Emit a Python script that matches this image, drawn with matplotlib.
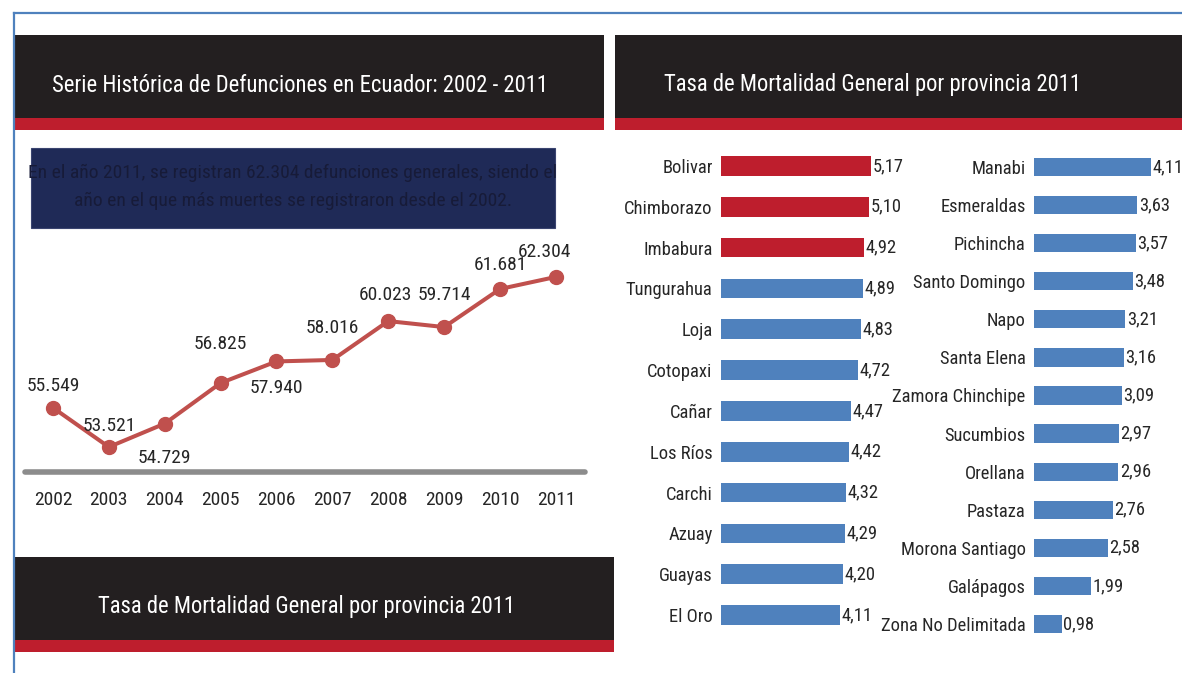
import matplotlib
matplotlib.use("Agg")
import matplotlib.pyplot as plt
from matplotlib import font_manager
from matplotlib.patches import Rectangle

# ---------------- data ----------------
years = [2002, 2003, 2004, 2005, 2006, 2007, 2008, 2009, 2010, 2011]
deaths = [55549, 53521, 54729, 56825, 57940, 58016, 60023, 59714, 61681, 62304]

prov_left = ["Bolivar", "Chimborazo", "Imbabura", "Tungurahua", "Loja", "Cotopaxi",
             "Cañar", "Los Ríos", "Carchi", "Azuay", "Guayas", "El Oro"]
rate_left = [5.17, 5.10, 4.92, 4.89, 4.83, 4.72, 4.47, 4.42, 4.32, 4.29, 4.20, 4.11]

prov_right = ["Manabi", "Esmeraldas", "Pichincha", "Santo Domingo", "Napo", "Santa Elena",
              "Zamora Chinchipe", "Sucumbios", "Orellana", "Pastaza", "Morona Santiago",
              "Galápagos", "Zona No Delimitada"]
rate_right = [4.11, 3.63, 3.57, 3.48, 3.21, 3.16, 3.09, 2.97, 2.96, 2.76, 2.58, 1.99, 0.98]

n_highlight = 3  # top provinces drawn in red

title_line = "Serie Histórica de Defunciones en Ecuador: 2002 - 2011"
title_bars = "Tasa de Mortalidad General por provincia 2011"
note_text = ("En el año 2011, se registran 62.304 defunciones generales, siendo el\n"
             "año en el que más muertes se registraron desde el 2002.")

# ---------------- style ----------------
avail = {f.name for f in font_manager.fontManager.ttflist}
FONT = "DejaVu Sans"
for cand in ["Liberation Sans Narrow", "Roboto Condensed", "Open Sans Condensed", "DejaVu Sans"]:
    if cand in avail:
        FONT = cand
        break
plt.rcParams["font.family"] = [FONT, "DejaVu Sans"]

RED = "#be1e2d"
BLUE = "#4f81bd"
LINE_RED = "#c0504d"
HEADER = "#231f20"
TEXT = "#262626"

W, H = 1182, 673
fig = plt.figure(figsize=(W / 100, H / 100), dpi=100)
fig.patch.set_facecolor("white")


def rect(x0, y0, x1, y1):
    return [x0 / W, 1 - y1 / H, (x1 - x0) / W, (y1 - y0) / H]


# background / decorations layer in pixel coordinates
bg = fig.add_axes([0, 0, 1, 1], zorder=0)
bg.set_xlim(0, W)
bg.set_ylim(H, 0)
bg.axis("off")

# outer blue frame
bg.plot([14, 14], [13, H], color=BLUE, lw=1.6)
bg.plot([14, W], [13, 13], color=BLUE, lw=1.6)


def header(x0, x1, y0, text, cx):
    bg.add_patch(Rectangle((x0, y0), x1 - x0, 83, facecolor=HEADER, edgecolor="none"))
    bg.add_patch(Rectangle((x0, y0 + 83), x1 - x0, 12, facecolor=RED, edgecolor="none"))
    bg.text(cx, y0 + 50, text, color="white", fontsize=16.3, ha="center", va="center")


header(14, 604, 35, title_line, 300)
header(615, W, 35, title_bars, 873)
header(14, 614, 557, title_bars, 306)

# note box
bg.add_patch(Rectangle((31, 148), 524, 80, facecolor="#1f2a57", edgecolor="#3a4470", lw=0.8))
bg.text(293, 187, note_text, color="#171b38", fontsize=14, ha="center", va="center",
        linespacing=1.75)

# ---------------- line chart ----------------
axl = fig.add_axes(rect(25, 240, 585, 472), zorder=2)
axl.patch.set_alpha(0)
axl.plot(years, deaths, color=LINE_RED, lw=2.9, marker="o", markersize=10,
         markerfacecolor=LINE_RED, markeredgecolor=LINE_RED, zorder=3)
axl.set_xlim(2001.5, 2011.52)
axl.set_ylim(52230, 64210)
for s in ["top", "left", "right"]:
    axl.spines[s].set_visible(False)
axl.spines["bottom"].set_color("#8c8c8c")
axl.spines["bottom"].set_linewidth(4)
axl.spines["bottom"].set_capstyle("round")
axl.set_yticks([])
axl.set_xticks(years)
axl.set_xticklabels([str(y) for y in years], fontsize=14, color=TEXT)
axl.tick_params(axis="x", length=0, pad=14)

label_offsets = [(0, 16), (0, 15), (0, -25), (0, 28), (0, -19), (0, 23), (-2, 19),
                 (0, 23), (0, 17), (-8, 18)]
for x, v, (dx, dy) in zip(years, deaths, label_offsets):
    txt = f"{v:,}".replace(",", ".")
    axl.annotate(txt, (x, v), xytext=(dx, dy), textcoords="offset points",
                 ha="center", va="center", fontsize=14, color=TEXT, zorder=4)

# ---------------- bar charts ----------------
def bar_panel(box, names, values, xmax, colors):
    ax = fig.add_axes(box, zorder=2)
    ax.patch.set_alpha(0)
    idx = list(range(len(names)))
    ax.barh(idx, values, height=0.48, color=colors, edgecolor="none")
    ax.set_ylim(len(names) - 0.5, -0.5)
    ax.set_xlim(0, xmax)
    ax.set_yticks(idx)
    ax.set_yticklabels(names, fontsize=13.3, color=TEXT)
    ax.tick_params(axis="y", length=0, pad=6)
    ax.set_xticks([])
    for s in ax.spines.values():
        s.set_visible(False)
    for i, v in enumerate(values):
        ax.annotate(f"{v:.2f}".replace(".", ","), (v, i), xytext=(1, 0),
                    textcoords="offset points", ha="left", va="center",
                    fontsize=13.3, color=TEXT)
    return ax


cols_left = [RED if i < n_highlight else BLUE for i in range(len(prov_left))]
bar_panel(rect(721, 145.6, 901, 635.4), prov_left, rate_left, 180 / 29.0, cols_left)
bar_panel(rect(1034, 148, 1182, 643), prov_right, rate_right, 148 / 28.5,
          [BLUE] * len(prov_right))

fig.savefig("out.png", dpi=100, facecolor="white")
